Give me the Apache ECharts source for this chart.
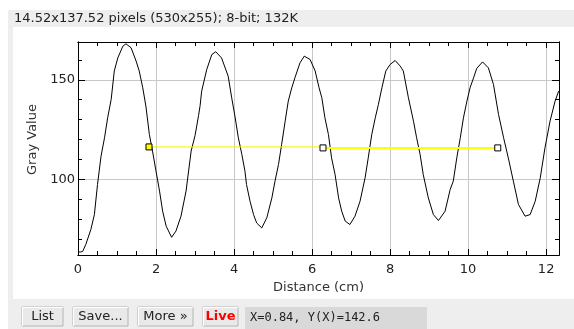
<!DOCTYPE html>
<html>
<head>
<meta charset="utf-8">
<script src="https://cdn.jsdelivr.net/npm/echarts@6/dist/echarts.min.js"></script>
<style>
  body { margin: 0; background: #fff; }
  #main { width: 574px; height: 329px; }
</style>
</head>
<body>
<div id="main"></div>
<script>
// profile
var distance = [0.00, 0.06, 0.12, 0.20, 0.33, 0.42, 0.50, 0.59, 0.68, 0.76, 0.85, 0.93, 1.02, 1.15, 1.23, 1.36, 1.49, 1.57, 1.66, 1.74,
  1.83, 1.91, 2.00, 2.09, 2.17, 2.26, 2.40, 2.51, 2.64, 2.77, 2.90, 3.00, 3.09, 3.13, 3.17, 3.30, 3.43, 3.53, 3.68, 3.85,
  3.94, 4.03, 4.11, 4.20, 4.28, 4.32, 4.41, 4.50, 4.58, 4.71, 4.84, 4.97, 5.05, 5.14, 5.22, 5.31, 5.39, 5.48, 5.56, 5.69,
  5.80, 5.95, 6.08, 6.18, 6.25, 6.33, 6.42, 6.50, 6.59, 6.68, 6.76, 6.85, 6.97, 7.10, 7.23, 7.36, 7.44, 7.53, 7.62, 7.70,
  7.79, 7.89, 8.00, 8.13, 8.26, 8.34, 8.47, 8.60, 8.68, 8.77, 8.85, 8.98, 9.11, 9.24, 9.41, 9.54, 9.62, 9.71, 9.80, 9.88,
  9.97, 10.05, 10.14, 10.22, 10.37, 10.52, 10.65, 10.78, 10.91, 11.03, 11.16, 11.29, 11.46, 11.59, 11.72, 11.85, 11.97, 12.10, 12.23, 12.32]
var grayValue = [63.6, 63.5, 63.8, 67.3, 74.8, 82.3, 97.4, 111.6, 120.9, 130.9, 140.1, 154.4, 161.0, 166.9, 168.1, 166.1, 159.4, 154.4, 146.0, 136.8,
  122.5, 114.2, 104.1, 94.1, 84.0, 76.5, 70.9, 74.0, 81.5, 94.1, 114.2, 122.0, 132.0, 137.0, 144.3, 155.2, 162.7, 164.1, 161.0, 151.8,
  141.0, 130.9, 120.9, 112.5, 104.1, 97.4, 89.0, 82.3, 78.1, 75.6, 80.7, 90.7, 99.1, 107.5, 117.5, 129.2, 139.3, 146.0, 151.0, 158.5,
  161.9, 160.2, 154.4, 146.0, 141.0, 130.9, 122.5, 110.8, 102.4, 90.7, 84.0, 79.0, 77.3, 81.5, 89.0, 100.8, 110.8, 122.5, 130.9, 137.6,
  146.0, 154.4, 157.7, 159.7, 156.9, 154.4, 141.0, 129.2, 120.9, 112.5, 102.4, 90.7, 82.3, 79.3, 84.0, 94.9, 99.1, 110.8, 120.9, 130.9,
  139.3, 146.0, 151.0, 155.7, 159.0, 156.0, 147.7, 132.6, 120.9, 110.8, 99.1, 87.4, 81.5, 82.3, 89.0, 100.8, 115.8, 129.2, 139.3, 144.3]

// fitted level segments with their end markers
var seg1X = [1.82, 6.28]
var seg1Y = [116.3, 116.3]
var seg2X = [6.28, 10.76]
var seg2Y = [115.8, 115.8]

var xMajor = [0, 2, 4, 6, 8, 10, 12]
var xMinor = [0.5, 1, 1.5, 2.5, 3, 3.5, 4.5, 5, 5.5, 6.5, 7, 7.5, 8.5, 9, 9.5, 10.5, 11, 11.5]
var yMajor = [100, 150]
var yMinor = [70, 80, 90, 110, 120, 130, 140, 160]

var xMin = 0, xMax = 12.33
var yMin = 62, yMax = 169

function zip(a, b) {
  var out = []
  for (var i = 0; i < a.length; i++) out.push([a[i], b[i]])
  return out
}

var font = 'DejaVu Sans'
var tickCol = '#000'

function xAx(pos, ticks, len, main) {
  return {
    type: 'value', position: pos, min: xMin, max: xMax,
    axisLine: { show: true, onZero: false, lineStyle: { color: '#000', width: 1 } },
    axisTick: { show: true, inside: true, length: len, customValues: ticks, lineStyle: { color: tickCol } },
    axisLabel: main ? { show: true, customValues: xMajor, margin: 8, color: '#222', fontFamily: font, fontSize: 13 } : { show: false },
    splitLine: main ? { show: true, lineStyle: { color: '#c8c8c8', width: 1 } } : { show: false },
    name: main ? 'Distance (cm)' : '',
    nameLocation: 'middle',
    nameGap: 26,
    nameTextStyle: { color: '#333', fontFamily: font, fontSize: 13 },
  }
}
function yAx(pos, ticks, len, main) {
  return {
    type: 'value', position: pos, min: yMin, max: yMax,
    axisLine: { show: true, onZero: false, lineStyle: { color: '#000', width: 1 } },
    axisTick: { show: true, inside: true, length: len, customValues: ticks, lineStyle: { color: tickCol } },
    axisLabel: main ? { show: true, customValues: yMajor, margin: 3, color: '#222', fontFamily: font, fontSize: 13 } : { show: false },
    splitLine: main ? { show: true, lineStyle: { color: '#c8c8c8', width: 1 } } : { show: false },
    name: main ? 'Gray Value' : '',
    nameLocation: 'middle',
    nameRotate: 90,
    nameGap: 34,
    nameTextStyle: { color: '#333', fontFamily: font, fontSize: 13, padding: [0, 0, 0, 18] },
  }
}

function button(x, w, label, color, bold) {
  return [
    { type: 'rect', z: -5, shape: { x: x, y: 307, width: w, height: 19 },
      style: { fill: '#e9e9e9', stroke: '#b4b4b4', lineWidth: 1 } },
    { type: 'line', z: -4, shape: { x1: x, y1: 307.5, x2: x + w, y2: 307.5 }, style: { stroke: '#fff' } },
    { type: 'line', z: -4, shape: { x1: x + 0.5, y1: 307, x2: x + 0.5, y2: 326 }, style: { stroke: '#fff' } },
    { type: 'text', z: -3, x: x + w / 2, y: 317,
      style: { text: label, fill: color, font: (bold ? 'bold ' : '') + '13px "DejaVu Sans"', align: 'center', verticalAlign: 'middle' } },
  ]
}

var graphics = [
  { type: 'rect', z: -10, shape: { x: 8, y: 10, width: 566, height: 319 }, style: { fill: '#eeeeee' } },
  { type: 'rect', z: -9, shape: { x: 13, y: 27, width: 561, height: 272 }, style: { fill: '#ffffff' } },
  { type: 'text', z: -8, x: 14, y: 19,
    style: { text: '14.52x137.52 pixels (530x255); 8-bit; 132K', fill: '#222', font: '13px "DejaVu Sans"', verticalAlign: 'middle' } },
  { type: 'rect', z: -8, shape: { x: 245, y: 307, width: 182, height: 22 }, style: { fill: '#d9d9d9' } },
  { type: 'text', z: -7, x: 250, y: 318,
    style: { text: 'X=0.84, Y(X)=142.6', fill: '#222', font: '12px "DejaVu Sans Mono"', verticalAlign: 'middle' } },
]
graphics = graphics
  .concat(button(22, 41, 'List', '#222', false))
  .concat(button(73, 55, 'Save...', '#222', false))
  .concat(button(138, 55, 'More »', '#222', false))
  .concat(button(203, 35, 'Live', '#ff0000', true))

// first segment: filled marker at its start only, the shared point uses the white marker of segment 2
var seg1Data = zip(seg1X, seg1Y).map(function (p, i) {
  return i === 0 ? { value: p } : { value: p, symbol: 'none' }
})

var option = {
  backgroundColor: '#fff',
  animation: false,
  grid: { left: 78, top: 42, width: 481, height: 213, containLabel: false },
  xAxis: [
    xAx('bottom', xMajor, 6, true),
    xAx('bottom', xMinor, 4, false),
    xAx('top', xMajor, 6, false),
    xAx('top', xMinor, 4, false),
  ],
  yAxis: [
    yAx('left', yMajor, 7, true),
    yAx('left', yMinor, 4, false),
    yAx('right', yMajor, 7, false),
    yAx('right', yMinor, 4, false),
  ],
  graphic: graphics,
  series: [
    {
      type: 'line',
      data: zip(distance, grayValue),
      showSymbol: false,
      lineStyle: { color: '#000', width: 1 },
      z: 3,
    },
    {
      type: 'line',
      data: seg1Data,
      symbol: 'rect',
      symbolSize: 6,
      lineStyle: { color: '#f2f200', width: 1 },
      itemStyle: { color: '#ffff00', borderColor: '#000', borderWidth: 1 },
      z: 4,
    },
    {
      type: 'line',
      data: zip(seg2X, seg2Y),
      symbol: 'rect',
      symbolSize: 6,
      lineStyle: { color: '#ffff00', width: 2 },
      itemStyle: { color: '#ffffff', borderColor: '#000', borderWidth: 1 },
      z: 4,
    },
  ],
}

var myChart = echarts.init(document.getElementById('main'))
myChart.setOption(option)
</script>
</body>
</html>
